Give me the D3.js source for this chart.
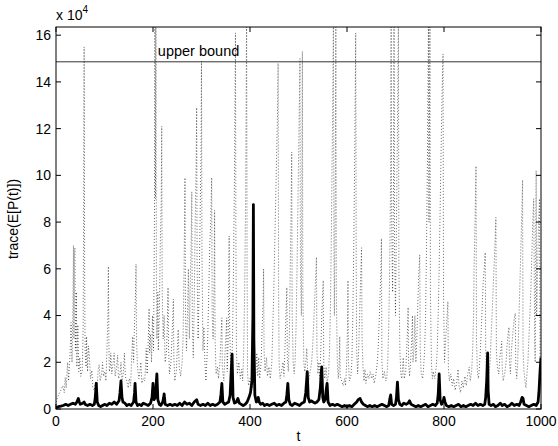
<!DOCTYPE html>
<html lang="en">
<head>
<meta charset="UTF-8">
<title>trace(E[P(t)])</title>
<style>
  body { margin: 0; background: #fff; }
  svg { font-family: "Liberation Sans", Arial, sans-serif; }
  .frame { fill: none; stroke: #000; stroke-width: 1; }
  .tick { stroke: #000; stroke-width: 1; }
  .ticklabel { font-size: 14px; fill: #000; }
  .dotted { fill: none; stroke: #000; stroke-width: 0.6; stroke-dasharray: 1 2; }
  .solid { fill: none; stroke: #000; stroke-width: 2.8; stroke-linejoin: round; }
  .bound { stroke: #333; stroke-width: 1; }
</style>
</head>
<body>
<svg width="558" height="446"></svg>
<script src="https://d3js.org/d3.v7.min.js"></script>
<script>

// values are in units of 10^4
var xTicks = [0, 200, 400, 600, 800, 1000];
var yTicks = [0, 2, 4, 6, 8, 10, 12, 14, 16];
var upperBound = 14.86;

// dotted series [t, value]
var dottedSeries = [
  [0,0.3],[5,0.6],[10,0.8],[14,1.0],[17,0.7],[19,1.35],[21,0.9],[24,2.0],[26,1.2],[29,2.4],
  [31,3.7],[33,2.0],[35,4.5],[36,7.0],[37,3.0],[38,6.5],[39,6.9],[40,2.5],[42,5.0],[43,1.8],
  [45,3.6],[47,1.6],[49,2.2],[51,1.4],[54,1.6],[56,3.5],[57,9.0],[58,15.5],[59,6.0],[60,2.5],
  [62,1.8],[63,3.1],[65,1.6],[67,2.7],[69,2.2],[71,1.3],[74,1.65],[76,0.9],[79,0.8],[82,1.2],
  [85,1.0],[87,1.7],[89,1.9],[91,1.2],[94,1.5],[96,2.0],[98,1.4],[101,1.6],[103,1.2],[105,2.5],
  [107,4.0],[108,6.1],[109,3.0],[110,1.6],[112,1.8],[113,2.4],[115,1.5],[118,2.0],[120,2.4],[122,1.4],
  [125,1.8],[127,2.3],[129,1.3],[132,1.5],[134,2.0],[136,1.2],[139,1.6],[141,2.4],[143,1.4],[146,1.2],
  [149,0.9],[151,1.3],[154,1.0],[156,2.2],[158,3.1],[160,2.0],[162,3.8],[164,5.0],[165,6.2],[166,3.0],
  [168,1.8],[171,1.3],[173,1.6],[175,2.0],[177,1.1],[180,1.3],[183,1.2],[185,2.0],[186,2.6],[188,1.5],
  [190,2.8],[192,4.3],[193,2.4],[195,3.2],[197,2.0],[199,4.0],[201,2.5],[203,8.0],[204,16.8],[205,9.0],
  [206,16.8],[207,6.0],[208,3.0],[210,5.0],[211,2.5],[213,4.0],[215,7.0],[217,9.0],[218,12.1],[219,5.0],
  [221,3.0],[223,4.0],[225,2.0],[228,2.5],[230,4.0],[231,5.2],[232,2.6],[234,1.5],[237,2.0],[240,3.5],
  [242,4.7],[243,2.2],[245,1.2],[248,1.6],[250,2.5],[252,3.4],[254,1.8],[257,1.4],[260,2.0],[262,3.0],
  [264,6.0],[266,9.9],[267,4.0],[269,2.5],[271,4.0],[273,6.0],[275,3.0],[277,5.5],[279,7.5],[280,9.3],
  [281,3.8],[283,2.2],[285,4.5],[287,8.0],[289,10.5],[290,12.9],[291,6.0],[293,3.0],[295,5.0],[297,8.0],
  [299,11.0],[300,14.9],[301,6.5],[303,2.5],[305,3.5],[307,2.0],[309,1.2],[311,2.0],[313,3.2],[315,5.0],
  [317,7.0],[319,8.0],[321,9.9],[322,4.0],[324,3.0],[326,5.5],[327,8.5],[328,3.0],[330,1.5],[333,1.8],
  [335,1.3],[338,2.0],[340,3.0],[342,3.9],[343,1.8],[346,1.2],[348,2.2],[350,3.0],[352,3.9],[353,1.6],
  [355,3.0],[356,5.0],[357,7.4],[358,3.5],[360,2.0],[362,1.5],[364,3.0],[366,6.0],[368,10.0],[370,16.1],
  [371,7.0],[372,2.5],[374,1.5],[377,2.0],[380,1.3],[383,1.7],[385,1.2],[387,2.5],[389,5.0],[391,9.0],
  [393,16.8],[394,6.0],[395,1.5],[397,1.0],[400,1.3],[403,0.8],[406,1.0],[409,1.2],[412,1.5],[414,2.4],
  [416,1.4],[418,2.2],[420,1.3],[423,2.0],[425,3.5],[427,4.5],[428,6.0],[429,2.5],[431,1.6],[434,2.2],
  [436,1.4],[439,1.8],[442,1.3],[445,2.0],[447,3.5],[449,5.0],[451,7.0],[453,9.0],[455,11.0],[457,13.0],
  [458,14.8],[459,5.0],[460,2.0],[462,1.3],[465,1.6],[468,2.0],[470,1.4],[472,2.5],[474,4.0],[476,5.2],
  [477,2.2],[479,1.6],[481,3.0],[483,6.0],[485,9.0],[486,11.0],[487,4.0],[489,2.0],[491,1.5],[493,2.0],
  [495,3.5],[497,6.0],[499,9.0],[501,12.0],[503,15.0],[504,6.0],[506,4.0],[507,10.0],[508,15.3],[509,5.0],
  [511,2.0],[513,1.6],[515,2.0],[517,2.6],[519,1.5],[521,1.2],[524,1.6],[527,2.0],[529,2.6],[531,3.5],
  [533,4.5],[535,5.5],[537,6.5],[538,2.5],[540,1.5],[542,2.0],[544,1.3],[546,2.5],[548,4.0],[550,5.0],
  [551,5.5],[552,2.0],[554,1.3],[557,1.8],[559,1.1],[562,1.5],[564,2.5],[566,4.5],[568,8.0],[570,12.0],
  [572,16.8],[573,7.0],[574,4.0],[576,10.0],[577,16.8],[578,5.0],[580,2.0],[582,1.3],[584,2.0],[585,3.1],
  [586,1.4],[589,1.2],[592,1.0],[595,1.3],[597,1.0],[599,1.8],[601,3.5],[602,5.5],[603,2.0],[605,1.2],
  [608,1.4],[610,2.0],[612,4.0],[614,7.0],[616,11.0],[618,16.1],[619,6.0],[620,2.5],[622,1.5],[624,2.5],
  [626,4.0],[628,5.5],[630,6.9],[631,3.0],[633,1.8],[635,1.2],[637,1.7],[639,1.1],[642,1.5],[645,1.3],
  [648,1.6],[651,1.3],[654,1.5],[656,1.1],[659,1.4],[662,1.9],[664,2.5],[666,3.5],[668,4.8],[670,6.0],
  [671,7.3],[672,2.0],[674,1.3],[677,1.6],[680,1.2],[682,1.3],[684,2.0],[686,3.5],[688,6.0],[690,10.0],
  [691,16.8],[692,8.0],[694,5.0],[696,10.0],[697,16.8],[698,7.0],[700,4.0],[702,8.0],[704,12.0],[706,16.8],
  [707,6.0],[709,2.5],[711,1.5],[713,1.3],[716,2.2],[718,1.3],[721,1.6],[723,2.5],[725,3.5],[726,4.35],
  [727,2.0],[729,1.4],[731,2.0],[733,2.8],[735,4.0],[736,2.0],[738,2.5],[740,4.0],[742,2.0],[744,3.0],
  [746,4.5],[748,5.8],[750,6.6],[751,2.5],[753,1.5],[756,1.3],[758,1.8],[760,2.5],[762,4.0],[764,7.0],
  [766,11.0],[768,16.8],[769,8.0],[771,16.8],[772,5.0],[774,2.0],[776,1.3],[778,1.6],[781,1.3],[784,1.8],
  [786,2.5],[788,4.0],[790,6.0],[792,8.5],[794,11.0],[796,13.5],[798,15.2],[799,5.0],[801,2.0],[803,2.8],
  [805,3.5],[807,4.2],[808,4.6],[809,1.8],[811,1.2],[814,1.5],[817,1.0],[820,1.3],[823,0.8],[826,1.1],
  [829,1.7],[831,1.0],[834,0.7],[837,1.2],[840,0.9],[843,1.4],[846,1.0],[849,1.5],[852,1.8],[854,1.2],
  [857,1.6],[859,2.5],[861,4.0],[862,6.0],[864,8.0],[866,10.4],[867,3.0],[869,1.5],[871,1.3],[873,1.8],
  [875,2.5],[877,3.5],[879,4.5],[881,5.5],[883,6.0],[885,6.7],[886,2.5],[888,1.5],[890,1.2],[893,1.6],
  [895,2.0],[897,3.0],[899,4.0],[901,5.0],[903,6.0],[905,7.0],[907,8.2],[908,2.5],[910,1.8],[913,1.5],
  [915,2.2],[917,2.5],[919,2.9],[920,1.8],[922,1.2],[925,1.5],[928,2.0],[930,2.7],[932,3.2],[934,3.5],
  [935,2.0],[937,1.5],[939,2.5],[941,3.0],[943,3.5],[945,3.9],[947,4.1],[948,1.8],[950,1.3],[952,2.0],
  [954,3.5],[956,5.0],[958,6.5],[960,8.0],[962,9.8],[963,2.5],[965,1.6],[967,1.2],[969,0.9],[971,1.5],
  [973,2.0],[975,3.0],[977,4.0],[979,5.0],[981,6.5],[983,8.0],[985,9.0],[987,3.0],[988,2.0],[990,10.2],
  [991,4.0],[993,6.0],[995,8.0],[997,9.0],[998,2.0],[1000,1.0]
];

// thick solid series [t, value]
var solidSeries = [
  [0,0.05],[5,0.1],[10,0.12],[15,0.15],[20,0.2],[25,0.15],[30,0.2],[35,0.25],[40,0.2],[43,0.3],
  [46,0.45],[48,0.3],[50,0.2],[55,0.25],[58,0.3],[60,0.2],[65,0.15],[70,0.2],[75,0.15],[79,0.2],
  [81,0.5],[83,1.1],[85,0.3],[88,0.15],[92,0.1],[96,0.15],[100,0.2],[105,0.15],[110,0.25],[115,0.2],
  [120,0.3],[125,0.2],[130,0.35],[132,0.7],[134,1.2],[136,0.5],[138,0.3],[142,0.25],[146,0.15],[150,0.2],
  [155,0.15],[160,0.3],[162,0.7],[163,1.1],[165,0.3],[168,0.15],[172,0.2],[176,0.15],[180,0.25],[185,0.2],
  [190,0.15],[195,0.25],[198,0.5],[200,1.1],[202,0.4],[205,0.5],[207,1.2],[208,1.5],[210,0.4],[213,0.2],
  [216,0.15],[220,0.3],[222,0.5],[223,0.65],[225,0.2],[230,0.15],[235,0.2],[240,0.15],[245,0.2],[250,0.15],
  [255,0.25],[260,0.15],[265,0.3],[270,0.2],[275,0.25],[280,0.15],[285,0.3],[290,0.4],[293,0.2],[298,0.15],
  [303,0.2],[308,0.15],[313,0.25],[318,0.15],[323,0.2],[328,0.15],[333,0.2],[338,0.3],[340,0.6],[342,1.1],
  [344,0.3],[348,0.2],[352,0.25],[356,0.3],[359,0.6],[361,1.5],[363,2.35],[365,0.5],[368,0.25],[372,0.3],
  [375,0.45],[378,0.25],[382,0.2],[386,0.15],[390,0.2],[394,0.3],[398,0.5],[401,0.7],[404,1.2],[406,4.0],
  [407,8.75],[408,3.0],[410,0.6],[413,0.3],[415,0.35],[417,0.5],[419,0.3],[422,0.2],[426,0.25],[430,0.15],
  [435,0.2],[440,0.15],[445,0.2],[450,0.25],[455,0.15],[460,0.2],[465,0.15],[470,0.25],[474,0.3],[476,0.6],
  [478,1.1],[480,0.4],[483,0.2],[487,0.15],[492,0.25],[497,0.2],[502,0.15],[507,0.25],[512,0.3],[515,0.7],
  [517,1.3],[518,1.6],[520,0.5],[523,0.3],[526,0.35],[530,0.3],[534,0.25],[538,0.3],[542,0.4],[545,0.9],
  [547,1.6],[548,1.8],[550,0.5],[552,0.3],[555,0.4],[557,0.8],[559,1.1],[561,0.3],[565,0.15],[570,0.2],
  [575,0.15],[580,0.2],[585,0.15],[590,0.1],[595,0.15],[600,0.1],[605,0.15],[610,0.1],[615,0.2],[620,0.3],
  [623,0.4],[627,0.45],[630,0.3],[634,0.2],[638,0.15],[642,0.1],[647,0.15],[652,0.1],[657,0.15],[662,0.1],
  [667,0.15],[672,0.2],[677,0.15],[682,0.1],[686,0.15],[688,0.4],[690,0.6],[692,0.2],[696,0.15],[700,0.2],
  [702,0.5],[704,1.15],[706,0.4],[709,0.2],[713,0.15],[717,0.25],[722,0.2],[726,0.25],[729,0.35],[732,0.2],
  [737,0.15],[742,0.1],[747,0.15],[752,0.1],[757,0.15],[762,0.2],[767,0.1],[772,0.15],[777,0.2],[782,0.15],
  [786,0.25],[788,0.6],[790,1.5],[792,0.4],[795,0.2],[798,0.3],[800,0.5],[802,0.3],[805,0.15],[810,0.1],
  [815,0.15],[820,0.1],[825,0.15],[830,0.2],[835,0.1],[840,0.15],[845,0.1],[850,0.15],[855,0.2],[860,0.15],
  [865,0.25],[870,0.15],[875,0.2],[880,0.15],[884,0.2],[886,0.5],[888,1.2],[890,2.4],[891,0.8],[893,0.2],
  [897,0.15],[902,0.2],[906,0.1],[911,0.15],[916,0.25],[920,0.15],[925,0.2],[930,0.1],[935,0.15],[940,0.25],
  [945,0.15],[950,0.2],[955,0.15],[958,0.3],[961,0.5],[963,0.45],[965,0.2],[970,0.15],[975,0.1],[980,0.15],
  [985,0.2],[990,0.15],[994,0.3],[996,0.8],[998,1.6],[1000,2.2]
];

var svg = d3.select("svg"),
    margin = {top: 27, right: 17, bottom: 37, left: 56},
    width = +svg.attr("width") - margin.left - margin.right,
    height = +svg.attr("height") - margin.top - margin.bottom;

var x = d3.scaleLinear().domain([0, 1000]).range([0, width]),
    y = d3.scaleLinear().domain([0, 16.35]).range([height, 0]);

var g = svg.append("g")
    .attr("transform", "translate(" + margin.left + "," + margin.top + ")");

svg.append("defs").append("clipPath")
    .attr("id", "clip")
  .append("rect")
    .attr("width", width)
    .attr("height", height);

var line = d3.line()
    .x(function (d) { return x(d[0]); })
    .y(function (d) { return y(d[1]); });

var plot = g.append("g").attr("clip-path", "url(#clip)");

plot.append("path")
    .datum(dottedSeries)
    .attr("class", "dotted")
    .attr("d", line);

plot.append("path")
    .datum(solidSeries)
    .attr("class", "solid")
    .attr("d", line);

plot.append("line")
    .attr("class", "bound")
    .attr("x1", 0).attr("x2", width)
    .attr("y1", y(upperBound)).attr("y2", y(upperBound));

g.append("text")
    .attr("class", "ticklabel")
    .style("font-size", "14.5px")
    .attr("x", x(210))
    .attr("y", y(upperBound) - 6)
    .text("upper bound");

// box and inward ticks on all four sides (matlab style)
var tl = 5;
g.append("rect").attr("class", "frame")
    .attr("width", width).attr("height", height);

xTicks.forEach(function (t) {
  g.append("line").attr("class", "tick")
      .attr("x1", x(t)).attr("x2", x(t)).attr("y1", height).attr("y2", height - tl);
  g.append("line").attr("class", "tick")
      .attr("x1", x(t)).attr("x2", x(t)).attr("y1", 0).attr("y2", tl);
  g.append("text").attr("class", "ticklabel")
      .attr("x", x(t)).attr("y", height + 17)
      .attr("text-anchor", "middle")
      .text(t);
});

yTicks.forEach(function (v) {
  g.append("line").attr("class", "tick")
      .attr("x1", 0).attr("x2", tl).attr("y1", y(v)).attr("y2", y(v));
  g.append("line").attr("class", "tick")
      .attr("x1", width).attr("x2", width - tl).attr("y1", y(v)).attr("y2", y(v));
  g.append("text").attr("class", "ticklabel")
      .attr("x", -5).attr("y", y(v))
      .attr("dy", "0.35em")
      .attr("text-anchor", "end")
      .text(v);
});

// exponent label
var ex = svg.append("text").attr("class", "ticklabel")
    .attr("x", margin.left).attr("y", 20);
ex.append("tspan").text("x 10");
ex.append("tspan").attr("dy", -7).style("font-size", "10px").text("4");

// axis labels
svg.append("text").attr("class", "ticklabel")
    .attr("x", margin.left + width / 2).attr("y", 441)
    .attr("text-anchor", "middle")
    .text("t");

svg.append("text").attr("class", "ticklabel")
    .attr("transform", "translate(18," + (margin.top + height / 2 + 1) + ") rotate(-90)")
    .attr("text-anchor", "middle")
    .text("trace(E[P(t)])");

</script>
</body>
</html>
